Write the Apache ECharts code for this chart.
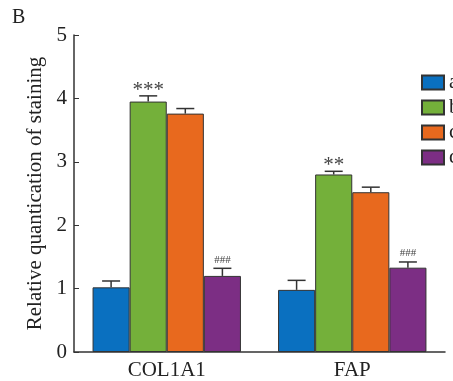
<!DOCTYPE html>
<html><head><meta charset="utf-8">
<script src="https://cdn.jsdelivr.net/npm/echarts@6/dist/echarts.min.js"></script>
<style>html,body{margin:0;padding:0;background:#fff}#c{width:453px;height:381px}</style>
</head><body><div id="c"></div>
<script>
const categories = ['COL1A1', 'FAP'];
const seriesNames = ['a', 'b', 'c', 'd'];
const valuesA = [1.02, 0.98];
const valuesB = [3.95, 2.80];
const valuesC = [3.76, 2.52];
const valuesD = [1.20, 1.33];
const errA = [0.10, 0.15];
const errB = [0.09, 0.05];
const errC = [0.08, 0.08];
const errD = [0.12, 0.09];
const marksB = ['***', '**'];
const marksD = ['###', '###'];
const yTicks = [0, 1, 2, 3, 4, 5];

const colors = ['#0a70c0', '#74b03a', '#e8691e', '#7c2e84'];
const values = [valuesA, valuesB, valuesC, valuesD];
const errs = [errA, errB, errC, errD];
const marks = [null, marksB, null, marksD];
const FONT = '"Liberation Serif", "Times New Roman", serif';
const GAP = 0.2;

const chart = echarts.init(document.getElementById('c'), null, {renderer: 'canvas'});
const series = [];
values.forEach((vals, i) => {
  series.push({
    name: seriesNames[i], type: 'bar', data: vals,
    barGap: '0%', barCategoryGap: (GAP * 100) + '%',
    itemStyle: {color: colors[i], borderColor: '#333', borderWidth: 1},
    z: 2
  });
});
values.forEach((vals, i) => {
  series.push({
    type: 'custom', silent: true, z: 3,
    data: vals.map((v, k) => [k, v, errs[i][k]]),
    renderItem: function (params, api) {
      const k = api.value(0), v = api.value(1), e = api.value(2);
      const bandW = api.size([1, 0])[0];
      const bw = bandW * (1 - GAP) / 4;
      const c = api.coord([k, v]);
      const x = c[0] + (i - 1.5) * bw;
      const yTop = api.coord([k, v + e])[1];
      const cap = 9;
      const children = [
        {type: 'line', shape: {x1: x, y1: c[1], x2: x, y2: yTop}, style: {stroke: '#333', lineWidth: 1.5}},
        {type: 'line', shape: {x1: x - cap, y1: yTop, x2: x + cap, y2: yTop}, style: {stroke: '#333', lineWidth: 1.5}}
      ];
      const m = marks[i] ? marks[i][k] : null;
      if (m) {
        const isHash = m.indexOf('#') >= 0;
        children.push({type: 'text', style: {
          text: m, x: x, y: yTop + (isHash ? -3 : 5),
          textAlign: 'center', textVerticalAlign: 'bottom',
          font: (isHash ? '11px ' : '21px ') + FONT, fill: '#444'
        }});
      }
      return {type: 'group', children: children};
    }
  });
});

chart.setOption({
  animation: false,
  backgroundColor: '#fff',
  title: {text: 'B', left: 7, top: 3, textStyle: {fontFamily: FONT, fontSize: 20, fontWeight: 'normal', color: '#222'}},
  legend: {
    data: seriesNames, orient: 'vertical', left: 421, top: 72, padding: 0,
    icon: 'rect',
    itemWidth: 22, itemHeight: 14, itemGap: 4,
    textStyle: {fontFamily: FONT, fontSize: 21, color: '#222'}
  },
  grid: {left: 74, right: 8, top: 35, bottom: 28, containLabel: false},
  xAxis: {
    type: 'category', data: categories,
    axisLine: {lineStyle: {color: '#333', width: 1.5}},
    axisTick: {show: false},
    axisLabel: {fontFamily: FONT, fontSize: 21, color: '#222', margin: 8}
  },
  yAxis: {
    type: 'value', min: yTicks[0], max: yTicks[yTicks.length - 1], interval: 1,
    name: 'Relative quantication of staining', nameLocation: 'middle', nameGap: 25,
    nameTextStyle: {fontFamily: FONT, fontSize: 21, color: '#222'},
    axisLine: {show: true, lineStyle: {color: '#333', width: 1.5}},
    axisTick: {show: true, inside: true, length: 5, lineStyle: {color: '#333'}},
    splitLine: {show: false},
    axisLabel: {fontFamily: FONT, fontSize: 21, color: '#222', margin: 7}
  },
  series: series
});
</script></body></html>
